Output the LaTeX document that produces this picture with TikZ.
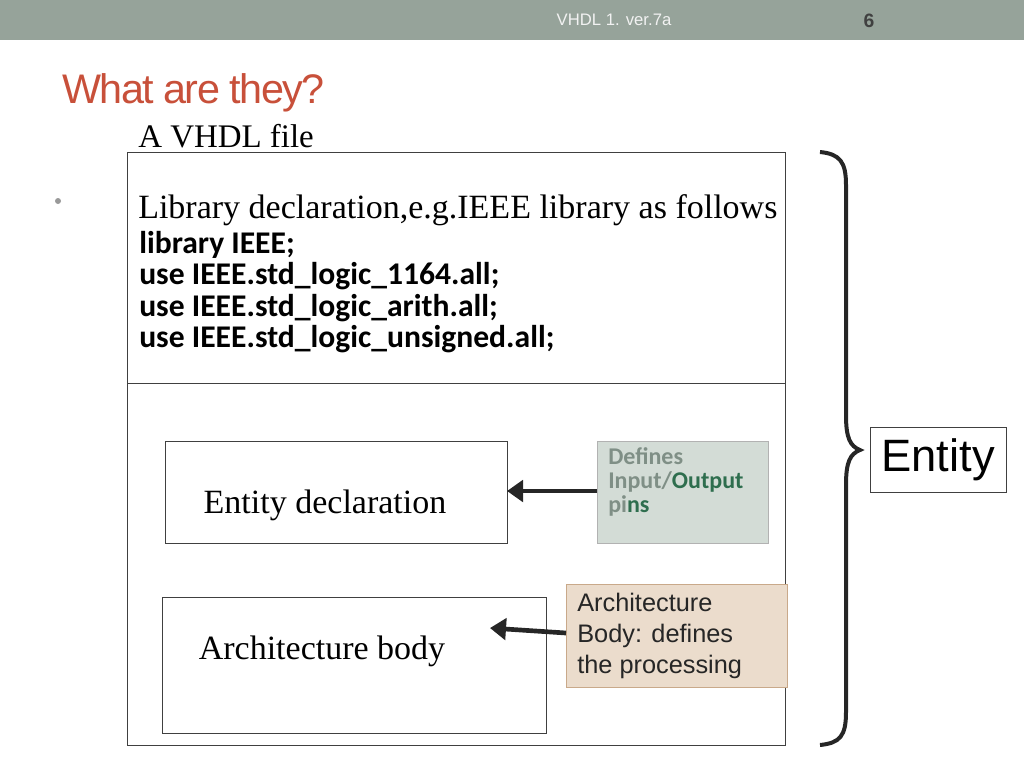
\documentclass[tikz,border=0pt]{standalone}
\usepackage{fontspec}
\setmainfont{Liberation Serif}
\newfontfamily\arial{Liberation Sans}
\newfontfamily\codef{Carlito}
\usetikzlibrary{arrows.meta}
\definecolor{hdr}{HTML}{96A39A}
\definecolor{ttl}{HTML}{C8503A}
\definecolor{dfill}{HTML}{D3DCD6}
\definecolor{afill}{HTML}{EBDCCC}
\definecolor{aedge}{HTML}{C9A98A}
\definecolor{dgray}{HTML}{7F8F86}
\definecolor{dgreen}{HTML}{2E6E4E}
\tikzset{box/.style={draw=black!75,line width=0.6pt},
  arr/.style={line width=3.5pt,draw=black!85,-{Triangle[length=12pt,width=16pt]}}}
\begin{document}
\begin{tikzpicture}[x=0.75pt,y=-0.75pt]
\useasboundingbox (0,0) rectangle (1024,768);
\fill[hdr] (0,0) rectangle (1024,40);
\node[font=\arial\fontsize{12.5}{14}\selectfont,text=white!95!black] (hd) at (614,20) {VHDL 1. ver.7a};
\node[font=\arial\bfseries\fontsize{14.5}{16}\selectfont,text=black!75] (pg) at (869,21) {6};
\node[anchor=west,font=\arial\fontsize{31}{34}\selectfont,text=ttl,inner sep=0] (t) at (62,93) {\addfontfeature{LetterSpace=-4}What are they?};
\node[anchor=west,font=\fontsize{24.7}{28}\selectfont,inner sep=0] (vf) at (138,136) {A VHDL file};
\fill[black!40] (58,201) circle (3);
\draw[box] (127,152) rectangle (785,745);
\draw[box] (127,383) -- (785,383);
\node[anchor=west,font=\fontsize{25.5}{28}\selectfont,inner sep=0] (ld) at (138,210) {Library declaration,e.g.IEEE library as follows};
\node[anchor=west,align=left,font=\codef\bfseries\fontsize{23.7}{23.6}\selectfont,inner sep=0] (code) at (139,292) {library IEEE;\\use IEEE.std\_logic\_1164.all;\\use IEEE.std\_logic\_arith.all;\\use IEEE.std\_logic\_unsigned.all;};
\draw[box] (165,441) rectangle (507,543);
\coordinate (edw) at (507,491);
\node[font=\fontsize{25.5}{28}\selectfont] (edt) at (325,505) {Entity declaration};
\draw[box] (162,597) rectangle (546,733);
\coordinate (abw) at (490,628);
\node[font=\fontsize{25.5}{28}\selectfont] (abt) at (322,651) {Architecture body};
\draw[draw=black!30,fill=dfill] (597,441) rectangle (768,543);
\coordinate (dfw) at (597,491);
\node[anchor=west,align=left,font=\codef\bfseries\fontsize{18}{18}\selectfont,inner sep=0] (dft) at (608,482) {\textcolor{dgray}{Defines}\\\textcolor{dgray}{Input/}\textcolor{dgreen}{Output}\\\textcolor{dgray}{pi}\textcolor{dgreen}{ns}};
\draw[draw=aedge,fill=afill] (566,584) rectangle (787,687);
\coordinate (anw) at (566,633);
\node[anchor=west,align=left,font=\arial\fontsize{19}{23.3}\selectfont,text=black!85,inner sep=0] (ant) at (577,636) {Architecture\\Body: defines\\the processing};
\draw[arr] (dfw) -- (edw);
\draw[arr] (anw) -- (abw);
\draw[line width=3pt,black!85] (820,152) .. controls (840,154) and (846,162) .. (846,185) -- (846,415) .. controls (846,438) and (850,446) .. (860,450) .. controls (850,454) and (846,462) .. (846,485) -- (846,712) .. controls (846,736) and (840,743) .. (820,745);
\draw[box] (870,427) rectangle (1006,492);
\node[font=\arial\fontsize{34}{36}\selectfont] (en) at (938,460) {Entity};
\end{tikzpicture}
\end{document}
